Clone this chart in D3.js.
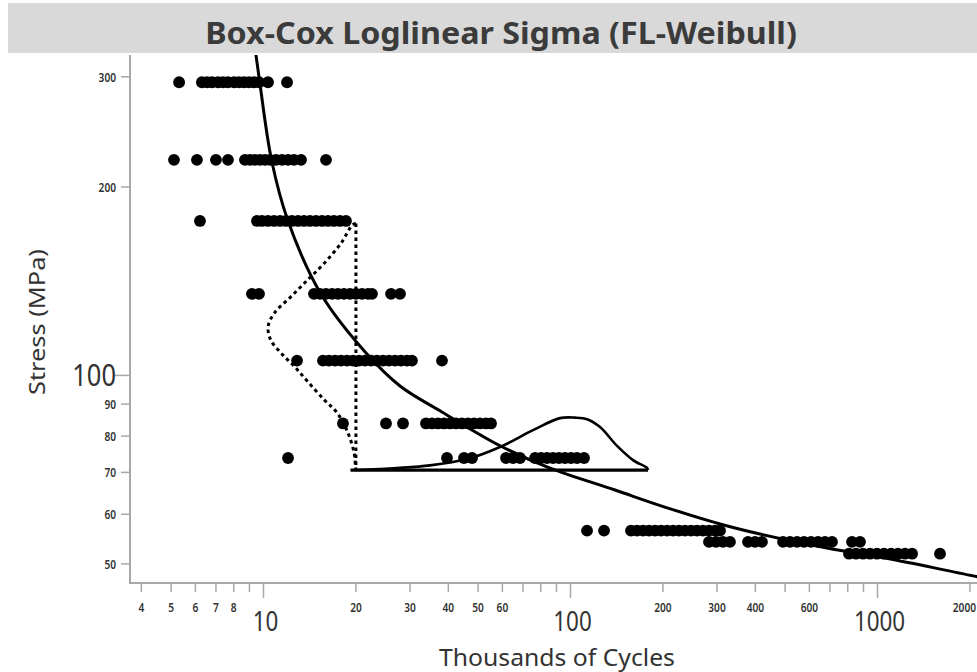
<!DOCTYPE html>
<html>
<head>
<meta charset="utf-8">
<script src="https://cdn.jsdelivr.net/npm/d3@7"></script>
<style>
  html, body { margin: 0; padding: 0; background: #fff; }
  svg { display: block; }
</style>
</head>
<body>
<svg id="chart" width="977" height="672"></svg>
<script>
// ---- Data -------------------------------------------------------------
const chartTitle = "Box-Cox Loglinear Sigma (FL-Weibull)";
const xTitle = "Thousands of Cycles";
const yTitle = "Stress (MPa)";

// Stress levels tested (MPa) and the observed lives (thousands of cycles) at each
const stressLevels = [294, 221, 176.5, 135, 105.6, 83.8, 73.8, 56.5, 54.2, 51.9];
const lives294 = [5.31, 6.30, 6.55, 6.80, 7.11, 7.38, 7.66, 8.02, 8.32, 8.64, 8.97, 9.31, 9.67, 10.34, 11.93];
const lives221 = [5.11, 6.07, 7.00, 7.66, 8.70, 9.04, 9.38, 9.74, 10.11, 10.50, 10.98, 11.49, 12.02, 12.57, 13.25, 15.98];
const lives176 = [6.21, 9.52, 9.89, 10.34, 10.82, 11.32, 11.84, 12.38, 12.96, 13.55, 14.17, 14.83, 15.51, 16.22, 16.96, 17.75, 18.56];
const lives135 = [9.17, 9.67, 14.60, 15.28, 15.98, 16.72, 17.48, 18.29, 19.13, 20.01, 20.93, 21.90, 22.56, 26.03, 27.84];
const lives106 = [12.86, 15.62, 16.34, 17.10, 17.88, 18.71, 19.57, 20.47, 21.41, 22.39, 23.42, 24.50, 25.63, 26.81, 28.04, 29.33, 30.45, 38.14];
const lives84 = [18.15, 25.06, 28.47, 33.83, 35.39, 37.02, 38.72, 40.51, 42.36, 44.31, 46.36, 48.49, 50.72, 53.06, 55.08];
const lives74 = [12.02, 39.60, 45.00, 47.78, 61.65, 64.97, 68.47, 76.64, 80.16, 83.85, 87.70, 91.73, 95.96, 100.4, 105.0, 110.7];
const lives56 = [113.2, 128.6, 157.4, 164.7, 172.3, 180.2, 188.5, 197.2, 206.3, 215.8, 225.6, 236.0, 246.9, 258.2, 270.1, 282.5, 295.5, 306.9];
const lives54 = [282.5, 297.8, 313.8, 330.7, 378.6, 399.0, 420.5, 492.3, 518.8, 546.8, 576.3, 607.4, 640.1, 674.5, 710.9, 826.0, 877.0];
const lives52 = [807.5, 851.1, 897.2, 945.4, 996.3, 1050, 1107, 1166, 1229, 1296, 1598];
const livesByLevel = [lives294, lives221, lives176, lives135, lives106, lives84, lives74, lives56, lives54, lives52];

// Fitted median life curve: [thousands of cycles, stress]
const fitCurve = [
  [9.20, 356], [9.45, 325], [9.72, 294.2], [10.62, 220.9], [12.02, 176.5],
  [15.39, 134.9], [21.58, 108.6], [27.84, 96.2], [37.57, 87.8], [58.95, 77.2],
  [85.77, 71.1], [139.6, 65.6], [197.2, 61.9], [306.9, 57.9], [414.3, 55.8],
  [684.6, 53.0], [1123, 50.8], [2110, 47.7], [2506, 47.0]
];

// Strength distribution at a fixed life of 20K cycles: [stress, relative density]
const strengthLife = 20;
const strengthDensity = [
  [174.9, 0], [173.9, 0.04], [162.6, 0.17], [151.1, 0.36], [142.1, 0.55],
  [133.6, 0.74], [125.7, 0.93], [119.7, 1.0], [113.9, 0.97], [108.5, 0.85],
  [103.3, 0.70], [97.8, 0.55], [91.4, 0.36], [87.0, 0.21], [80.9, 0.09],
  [75.1, 0.02], [71.5, 0.005], [70.6, 0]
];
// Life distribution at a fixed stress of 70.6 MPa: [thousands of cycles, relative density]
const lifeStress = 70.6;
const lifeDensity = [
  [19.87, 0], [27.22, 0.04], [34.85, 0.09], [46.02, 0.21], [58.95, 0.44],
  [75.5, 0.76], [92.4, 0.99], [103.4, 1.0], [113.2, 0.97], [124.8, 0.82],
  [141.8, 0.46], [159.8, 0.19], [177.5, 0.04], [178.8, 0]
];
const lifeBaseline = [19.2, 178.8];
const strengthDensityWidth = 0.286;  // peak width, decades of life
const lifeDensityHeight = 0.0838;    // peak height, decades of stress

// Axis ticks
const xLabeledTicks = [4, 5, 6, 7, 8, 20, 30, 40, 50, 60, 200, 300, 400, 600, 2000];
const xMajorTicks = [10, 100, 1000];
const xMinorTicks = [9, 70, 80, 90, 500, 700, 800, 900];
const yLabeledTicks = [50, 60, 70, 80, 90, 200, 300];
const yMajorTicks = [100];

// ---- Layout -----------------------------------------------------------
const svg = d3.select("#chart");
const W = 977, H = 672;
const plot = { left: 130, right: 977, top: 55, bottom: 583 };

const x = d3.scaleLog().domain([3.674, 2109]).range([plot.left, plot.right]);
const y = d3.scaleLog().domain([46.6, 325]).range([plot.bottom, plot.top]);

const ink = "#000";
const axisGrey = "#a8a8a8";
const textColor = "#333";

// Text helper: horizontally condensed text, optionally fitted to a width
function condensedText(parent, str, opts) {
  const g = parent.append("g");
  const t = g.append("text")
    .text(str)
    .attr("font-family", opts.family || "'Noto Sans', 'Open Sans', sans-serif")
    .attr("font-size", opts.size)
    .attr("font-weight", opts.weight || 400)
    .attr("fill", opts.fill || textColor)
    .attr("text-anchor", opts.anchor || "middle");
  let sx = opts.sx || 1;
  if (opts.width) sx = opts.width / t.node().getComputedTextLength();
  let px = opts.x;
  // keep labels inside the right edge of the page
  if (opts.keepInside && (opts.anchor || "middle") === "middle") {
    const half = t.node().getComputedTextLength() * sx / 2;
    px = Math.min(px, W - 1 - half);
  }
  g.attr("transform", `translate(${px},${opts.y}) rotate(${opts.rotate || 0}) scale(${sx},1)`);
  return g;
}

// Title band
svg.append("rect").attr("x", 8).attr("y", 3).attr("width", W - 8).attr("height", 50)
  .attr("fill", "#d9d9d9");
condensedText(svg, chartTitle, { x: 501, y: 44, size: 31, weight: 700, fill: "#3b3b3b", width: 592 });

// Clip for the plotting region
svg.append("clipPath").attr("id", "plotClip")
  .append("rect").attr("x", plot.left).attr("y", plot.top)
  .attr("width", plot.right - plot.left).attr("height", plot.bottom - plot.top);

// ---- Axes -------------------------------------------------------------
const axes = svg.append("g");
axes.append("line").attr("x1", plot.left).attr("x2", plot.left)
  .attr("y1", plot.top).attr("y2", plot.bottom + 1)
  .attr("stroke", axisGrey).attr("stroke-width", 2);
axes.append("line").attr("x1", plot.left - 1).attr("x2", plot.right)
  .attr("y1", plot.bottom).attr("y2", plot.bottom)
  .attr("stroke", axisGrey).attr("stroke-width", 2);

// x ticks
[...xLabeledTicks, ...xMinorTicks].forEach(v => {
  axes.append("line").attr("x1", x(v)).attr("x2", x(v))
    .attr("y1", plot.bottom).attr("y2", plot.bottom + 9)
    .attr("stroke", axisGrey).attr("stroke-width", 1.5);
});
xMajorTicks.forEach(v => {
  axes.append("line").attr("x1", x(v)).attr("x2", x(v))
    .attr("y1", plot.bottom).attr("y2", plot.bottom + 15)
    .attr("stroke", axisGrey).attr("stroke-width", 1.5);
});
xLabeledTicks.forEach(v => {
  condensedText(axes, String(v), { x: x(v), y: plot.bottom + 29, size: 13, weight: 600, sx: 0.78, keepInside: true });
});
xMajorTicks.forEach(v => {
  condensedText(axes, String(v), { x: x(v) + 2, y: plot.bottom + 48, size: 28, sx: 0.8 });
});

// y ticks
yLabeledTicks.forEach(v => {
  axes.append("line").attr("x1", plot.left - 9).attr("x2", plot.left)
    .attr("y1", y(v)).attr("y2", y(v))
    .attr("stroke", axisGrey).attr("stroke-width", 1.5);
  condensedText(axes, String(v), { x: plot.left - 14, y: y(v) + 5, size: 13, weight: 600, sx: 0.78, anchor: "end" });
});
yMajorTicks.forEach(v => {
  axes.append("line").attr("x1", plot.left - 15).attr("x2", plot.left)
    .attr("y1", y(v)).attr("y2", y(v))
    .attr("stroke", axisGrey).attr("stroke-width", 1.5);
  condensedText(axes, String(v), { x: plot.left - 14, y: y(v) + 11, size: 30, sx: 0.85, anchor: "end" });
});

// Axis titles
condensedText(svg, xTitle, { x: 557, y: 666, size: 23, width: 236 });
condensedText(svg, yTitle, { x: 45, y: 322, size: 21, width: 146, rotate: -90 });

// ---- Marks ------------------------------------------------------------
const marks = svg.append("g").attr("clip-path", "url(#plotClip)");

// Observations
const points = stressLevels.flatMap((s, i) => livesByLevel[i].map(n => ({ n, s })));
marks.append("g").selectAll("circle").data(points).join("circle")
  .attr("cx", d => x(d.n)).attr("cy", d => y(d.s)).attr("r", 5.9)
  .attr("fill", ink);

// Fitted life curve
marks.append("path").datum(fitCurve)
  .attr("d", d3.line().x(d => x(d[0])).y(d => y(d[1])).curve(d3.curveCatmullRom.alpha(0.5)))
  .attr("fill", "none").attr("stroke", ink).attr("stroke-width", 3);

// Strength distribution at a fixed life (dotted, drawn leftwards of its baseline)
const strengthTop = strengthDensity[0][0];
marks.append("line")
  .attr("x1", x(strengthLife)).attr("x2", x(strengthLife))
  .attr("y1", y(strengthTop)).attr("y2", y(lifeStress))
  .attr("stroke", ink).attr("stroke-width", 3).attr("stroke-dasharray", "3.5,3.5");
marks.append("path").datum(strengthDensity)
  .attr("d", d3.line()
    .x(d => x(strengthLife / Math.pow(10, d[1] * strengthDensityWidth)))
    .y(d => y(d[0]))
    .curve(d3.curveCatmullRom.alpha(0.5)))
  .attr("fill", "none").attr("stroke", ink).attr("stroke-width", 3)
  .attr("stroke-dasharray", "3.5,3.5");

// Life distribution at a fixed stress (solid, drawn above its baseline)
marks.append("line")
  .attr("x1", x(lifeBaseline[0])).attr("x2", x(lifeBaseline[1]))
  .attr("y1", y(lifeStress)).attr("y2", y(lifeStress))
  .attr("stroke", ink).attr("stroke-width", 3.2);
marks.append("path").datum(lifeDensity)
  .attr("d", d3.line()
    .x(d => x(d[0]))
    .y(d => y(lifeStress * Math.pow(10, d[1] * lifeDensityHeight)))
    .curve(d3.curveCatmullRom.alpha(0.5)))
  .attr("fill", "none").attr("stroke", ink).attr("stroke-width", 2.6);
</script>
</body>
</html>
